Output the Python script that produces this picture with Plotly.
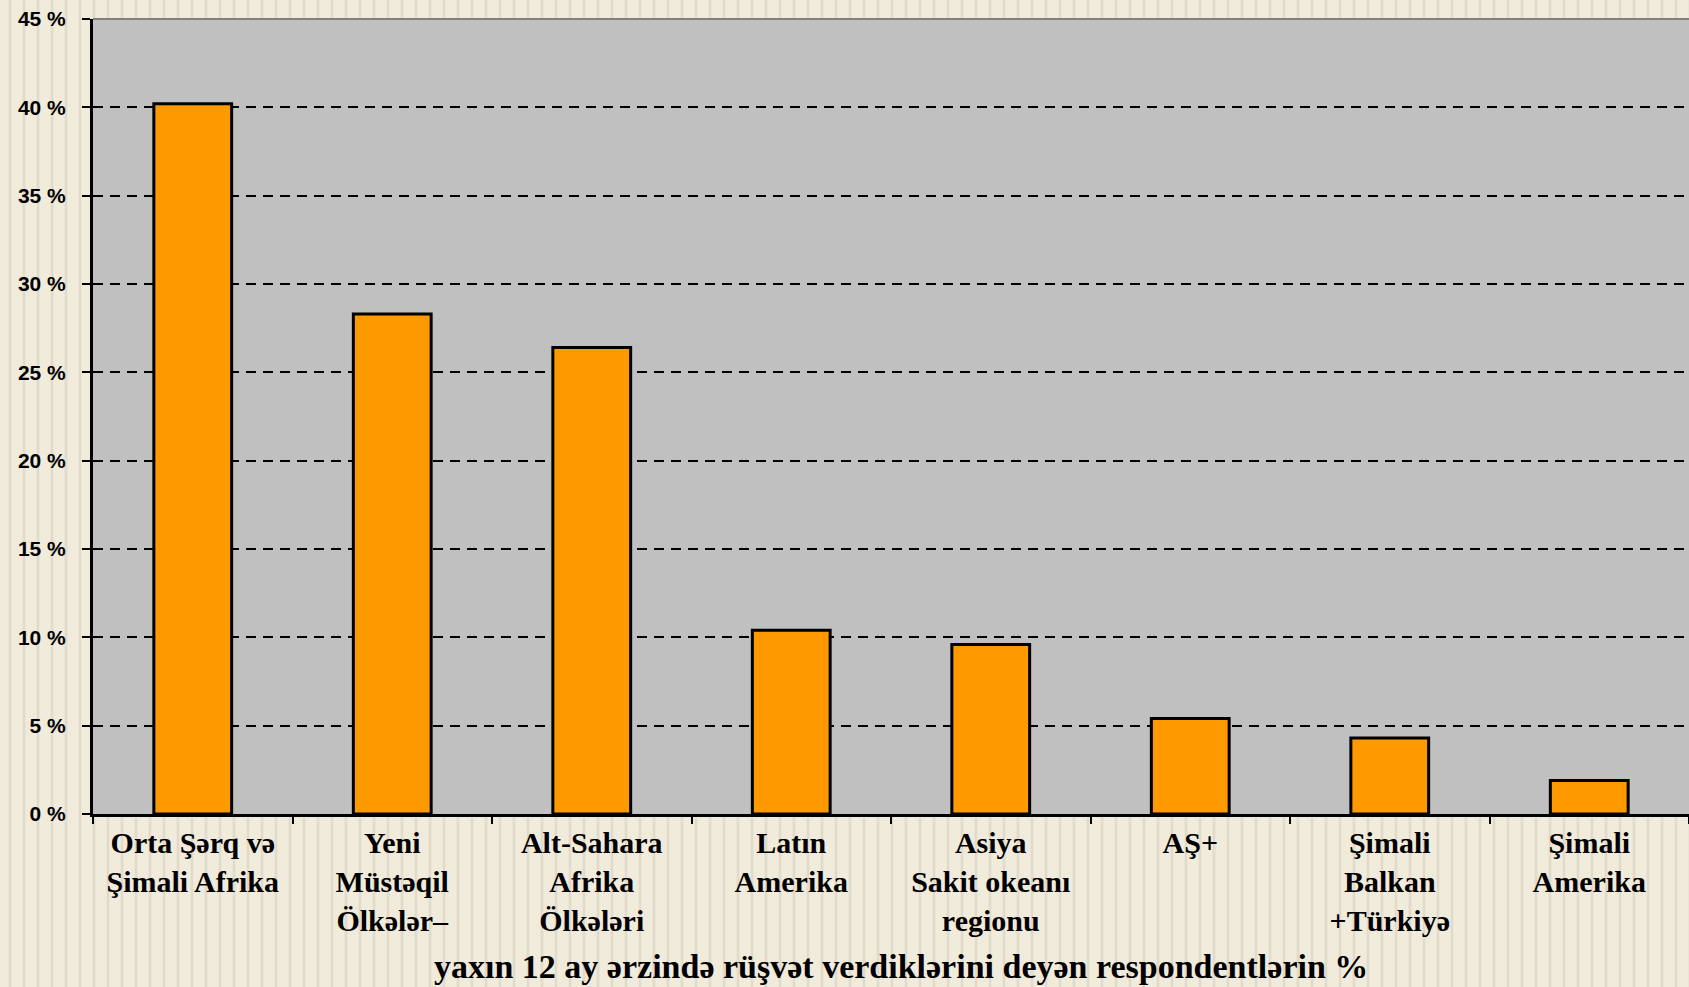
import plotly.graph_objects as go

categories = [
    "Orta Şərq və<br>Şimali Afrika",
    "Yeni<br>Müstəqil<br>Ölkələr–",
    "Alt-Sahara<br>Afrika<br>Ölkələri",
    "Latın<br>Amerika",
    "Asiya<br>Sakit okeanı<br>regionu",
    "AŞ+",
    "Şimali<br>Balkan<br>+Türkiyə",
    "Şimali<br>Amerika",
]
values = [40.2, 28.3, 26.4, 10.4, 9.6, 5.4, 4.3, 1.9]
tick_vals = [0, 5, 10, 15, 20, 25, 30, 35, 40, 45]
tick_text = [f"{v} %" for v in tick_vals]
x_title = "yaxın 12 ay ərzində rüşvət verdiklərini deyən respondentlərin %"

fig = go.Figure(
    go.Bar(
        x=categories,
        y=values,
        width=0.39,
        marker=dict(color="#FF9900", line=dict(color="black", width=3)),
    )
)

fig.update_layout(
    width=1689,
    height=987,
    margin=dict(l=93, r=0, t=19, b=173),
    paper_bgcolor="rgba(0,0,0,0)",
    plot_bgcolor="#C0C0C0",
    showlegend=False,
    font=dict(family="Liberation Serif", color="black"),
)

fig.update_xaxes(
    showline=True,
    linecolor="black",
    linewidth=3,
    ticks="outside",
    tickson="boundaries",
    ticklen=7,
    tickwidth=2,
    tickcolor="black",
    tickfont=dict(family="Liberation Serif", size=30, color="black", weight="bold"),
    showgrid=False,
    tickangle=0,
)

fig.update_yaxes(
    range=[0, 45],
    tickvals=tick_vals,
    ticktext=tick_text,
    showline=True,
    linecolor="black",
    linewidth=3,
    ticks="outside",
    ticklen=8,
    tickwidth=2,
    tickcolor="black",
    ticklabelstandoff=12,
    tickfont=dict(family="Liberation Sans", size=21, color="black", weight="bold"),
    showgrid=True,
    gridcolor="black",
    gridwidth=2,
    griddash="10px,7px",
    zeroline=False,
)

# top border of plot area
fig.add_shape(type="line", xref="paper", yref="paper", x0=0, x1=1, y0=1, y1=1,
              line=dict(color="#808080", width=2))

fig.add_annotation(
    text=x_title,
    xref="paper", yref="paper",
    x=0.506, y=-0.192,
    xanchor="center", yanchor="middle",
    showarrow=False,
    font=dict(family="Liberation Serif", size=34, color="black", weight="bold"),
)

post = (
    "document.body.style.margin='0';"
    "document.documentElement.style.margin='0';"
    "document.body.style.overflow='hidden';"
    "document.body.style.background="
    "'repeating-linear-gradient(90deg, #F1EBDC 0px, #F1EBDC 8px, #DDD5C6 10px, #F1EBDC 12px, #F1EBDC 14px)';"
)

fig.write_html("out.html", post_script=post, config={"displayModeBar": False})
